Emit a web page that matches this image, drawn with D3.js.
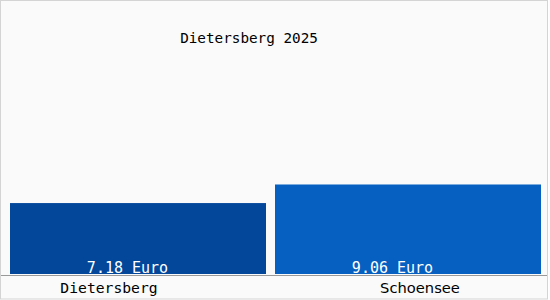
<!DOCTYPE html>
<html>
<head>
<meta charset="utf-8">
<script src="https://cdn.jsdelivr.net/npm/d3@7"></script>
<style>
  body { margin: 0; background: #fff; }
  svg { display: block; }
</style>
</head>
<body>
<svg></svg>
<script>
let title = 'Dietersberg 2025'
let places = ['Dietersberg', 'Schoensee']
let prices = [7.18, 9.06]
let priceLabels = ['7.18 Euro', '9.06 Euro']
let barColors = ['#03479a', '#0560c1']

let width = 550
let height = 300
let baseline = 274
let plotRight = 541
let gap = 9

let svg = d3.select('svg')
    .attr('width', width)
    .attr('height', height)

svg.append('rect')
    .attr('x', 0.5)
    .attr('y', 0.5)
    .attr('width', width - 3)
    .attr('height', height - 1.5)
    .attr('fill', '#fafafa')
    .attr('stroke', '#d4d4d4')

let xScale = d3.scaleBand()
    .domain(places)
    .range([10, 540])

let yScale = d3.scaleLinear()
    .domain([0, 25])
    .range([baseline, 27])

let barEnd = (i) => i < places.length - 1 ? xScale(places[i + 1]) - gap : plotRight

svg.selectAll('.bar')
    .data(places)
    .enter()
    .append('rect')
    .attr('class', 'bar')
    .attr('x', (d) => xScale(d))
    .attr('width', (d, i) => barEnd(i) - xScale(d))
    .attr('y', (d, i) => yScale(prices[i]))
    .attr('height', (d, i) => baseline - yScale(prices[i]))
    .attr('fill', (d, i) => barColors[i])

// axis line
svg.append('line')
    .attr('x1', 1)
    .attr('x2', width - 3)
    .attr('y1', 275.5)
    .attr('y2', 275.5)
    .attr('stroke', '#999')

svg.append('text')
    .attr('x', 249)
    .attr('y', 43)
    .attr('text-anchor', 'middle')
    .style('font-family', 'DejaVu Sans Mono')
    .style('font-size', '14.3px')
    .attr('fill', '#000')
    .text(title)

svg.selectAll('.value')
    .data(places)
    .enter()
    .append('text')
    .attr('class', 'value')
    .attr('x', (d) => xScale(d) + xScale.step() / 2 - 15)
    .attr('y', 273)
    .attr('text-anchor', 'middle')
    .style('font-family', 'DejaVu Sans Mono')
    .style('font-size', '15px')
    .attr('fill', '#fff')
    .text((d, i) => priceLabels[i])

svg.selectAll('.cat')
    .data(places)
    .enter()
    .append('text')
    .attr('class', 'cat')
    .attr('x', (d, i) => i == 0 ? 109 : 420)
    .attr('y', 293)
    .attr('text-anchor', 'middle')
    .style('font-family', (d, i) => i == 0 ? 'DejaVu Sans Mono' : 'DejaVu Sans')
    .style('font-size', '14.7px')
    .attr('fill', '#000')
    .text((d) => d)
</script>
</body>
</html>
